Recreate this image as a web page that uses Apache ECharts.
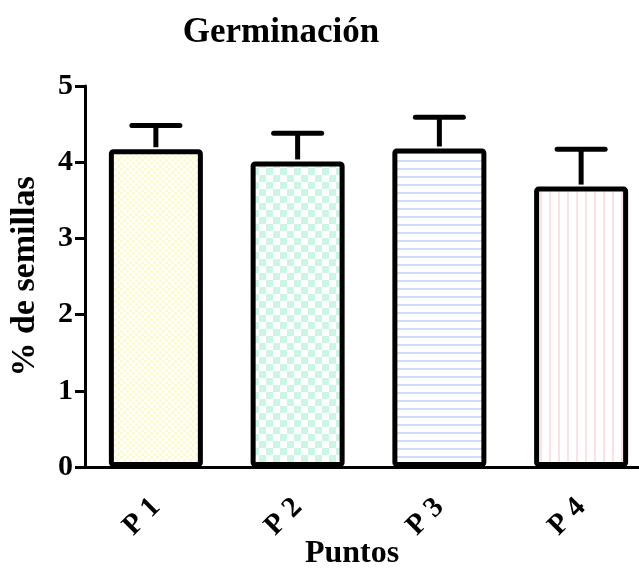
<!DOCTYPE html>
<html><head><meta charset="utf-8">
<script src="https://cdn.jsdelivr.net/npm/echarts@6/dist/echarts.min.js"></script>
<style>html,body{margin:0;padding:0;background:#fff}#c{width:639px;height:575px}</style>
</head><body><div id="c"></div>
<script>
var categories = ['P 1', 'P 2', 'P 3', 'P 4'];
var means = [4.17, 4.01, 4.18, 3.68];
var errors = [0.31, 0.37, 0.41, 0.49];
var yTicks = [0, 1, 2, 3, 4, 5];

function pat(w, h, draw) {
  var c = document.createElement('canvas'); c.width = w; c.height = h;
  var g = c.getContext('2d'); g.fillStyle = '#ffffff'; g.fillRect(0, 0, w, h); draw(g); return c;
}
var patterns = [
  pat(6, 6, function (g) { g.fillStyle = '#fcfad4'; g.fillRect(0, 0, 3, 3); g.fillRect(3, 3, 3, 3); }),
  pat(14, 14, function (g) { g.fillStyle = '#ccf6e4'; g.fillRect(0, 0, 7, 7); g.fillRect(7, 7, 7, 7); }),
  pat(8, 8, function (g) { g.fillStyle = '#cddff8'; g.fillRect(0, 0, 8, 2); }),
  pat(9, 9, function (g) { g.fillStyle = '#fde2e4'; g.fillRect(0, 0, 2, 9); })
];
var FONT = 'Liberation Serif';
var chart = echarts.init(document.getElementById('c'));
chart.setOption({
  animation: false,
  title: { text: 'Germinación', left: 276, top: 10, textAlign: 'center',
    textStyle: { fontFamily: FONT, fontWeight: 'bold', fontSize: 35, color: '#000' } },
  graphic: [{ type: 'text', x: 352, y: 538, style: { text: 'Puntos', fontFamily: FONT, fontWeight: 'bold', fontSize: 32, fill: '#000', align: 'center' } }],
  grid: { left: 85, top: 86, height: 381, width: 567, containLabel: false, outerBoundsMode: 'none' },
  xAxis: {
    type: 'category', data: categories,
    axisLine: { lineStyle: { color: '#000', width: 3 } },
    axisTick: { alignWithLabel: true, length: 9, lineStyle: { color: '#000', width: 3 } },
    axisLabel: { rotate: 45, margin: 36, fontFamily: FONT, fontWeight: 'bold', fontSize: 29, color: '#000' }
  },
  yAxis: {
    type: 'value', min: 0, max: 5, interval: 1,
    name: '% de semillas', nameLocation: 'middle', nameRotate: 90, nameGap: 43,
    nameTextStyle: { fontFamily: FONT, fontWeight: 'bold', fontSize: 34, color: '#000' },
    splitLine: { show: false },
    axisLine: { show: true, lineStyle: { color: '#000', width: 3 } },
    axisTick: { show: true, length: 10, lineStyle: { color: '#000', width: 3 } },
    axisLabel: { margin: 12, fontFamily: FONT, fontWeight: 'bold', fontSize: 30, color: '#000',
      formatter: function (v) { return yTicks.indexOf(v) >= 0 ? String(v) : ''; } }
  },
  series: [{
    type: 'bar', barWidth: 94, z: 2,
    data: means.map(function (v, i) {
      return { value: v, itemStyle: { color: { image: patterns[i], repeat: 'repeat' }, borderColor: '#000', borderWidth: 5, borderRadius: 2 } };
    })
  }, {
    type: 'custom', z: 3,
    data: means.map(function (v, i) { return [i, v, v + errors[i]]; }),
    renderItem: function (params, api) {
      var base = api.coord([api.value(0), api.value(1)]);
      var top = api.coord([api.value(0), api.value(2)]);
      var hw = 24;
      var st = { stroke: '#000', lineWidth: 5, lineCap: 'round' };
      return { type: 'group', children: [
        { type: 'line', shape: { x1: base[0], y1: base[1] - 2, x2: top[0], y2: top[1] }, style: { stroke: '#000', lineWidth: 5 } },
        { type: 'line', shape: { x1: top[0] - hw, y1: top[1], x2: top[0] + hw, y2: top[1] }, style: st }
      ] };
    }
  }]
});
</script></body></html>
